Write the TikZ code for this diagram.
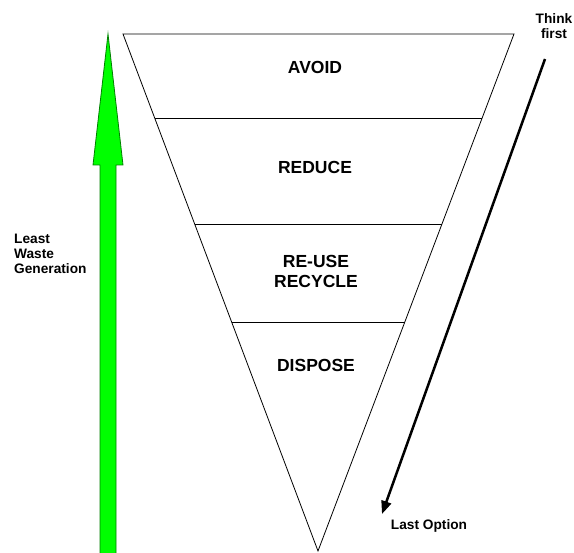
\documentclass[tikz,border=0pt]{standalone}
\usepackage{fontspec}
\setmainfont{Liberation Sans}
\usetikzlibrary{arrows.meta}
\begin{document}
\begin{tikzpicture}[x=1pt,y=-1pt,
  big/.style={font=\bfseries\fontsize{17.5}{20}\selectfont, align=center, inner sep=0pt},
  small/.style={font=\bfseries\fontsize{13.7}{15}\selectfont, inner sep=0pt}]
\useasboundingbox (0,0) rectangle (574,553);
% funnel
\coordinate (tl) at (123,34);
\coordinate (tr) at (514,34);
\coordinate (ap) at (318,551);
\draw[line width=0.8pt] (tl) -- (tr) -- (ap) -- cycle;
\draw[line width=0.8pt] (154.7,118) -- (482.2,118);
\draw[line width=0.8pt] (194.8,224) -- (442,224);
\draw[line width=0.8pt] (231.8,322) -- (404.8,322);
\node[big] (avoid) at (315,67) {AVOID};
\node[big] (reduce) at (315,167) {REDUCE};
\node[big] (reuse) at (316,271) {RE-USE\\RECYCLE};
\node[big] (dispose) at (316,365.5) {DISPOSE};
% green arrow
\draw[fill=green, draw=green!50!black, line width=0.8pt]
  (100,553) -- (100,165) -- (93,165) -- (108,34) -- (123,165) -- (116,165) -- (116,553);
% black arrow
\coordinate (as) at (545,59);
\coordinate (ae) at (382,514);
\draw[line width=2.5pt, -{Triangle[length=13pt,width=10pt]}] (as) -- (ae);
\node[small, align=center] (think) at (554,26) {Think\\first};
\node[small] (last) at (429,526) {Last Option};
\node[small, align=left, anchor=north west] (least) at (14,234) {Least\\Waste\\Generation};
\end{tikzpicture}
\end{document}
